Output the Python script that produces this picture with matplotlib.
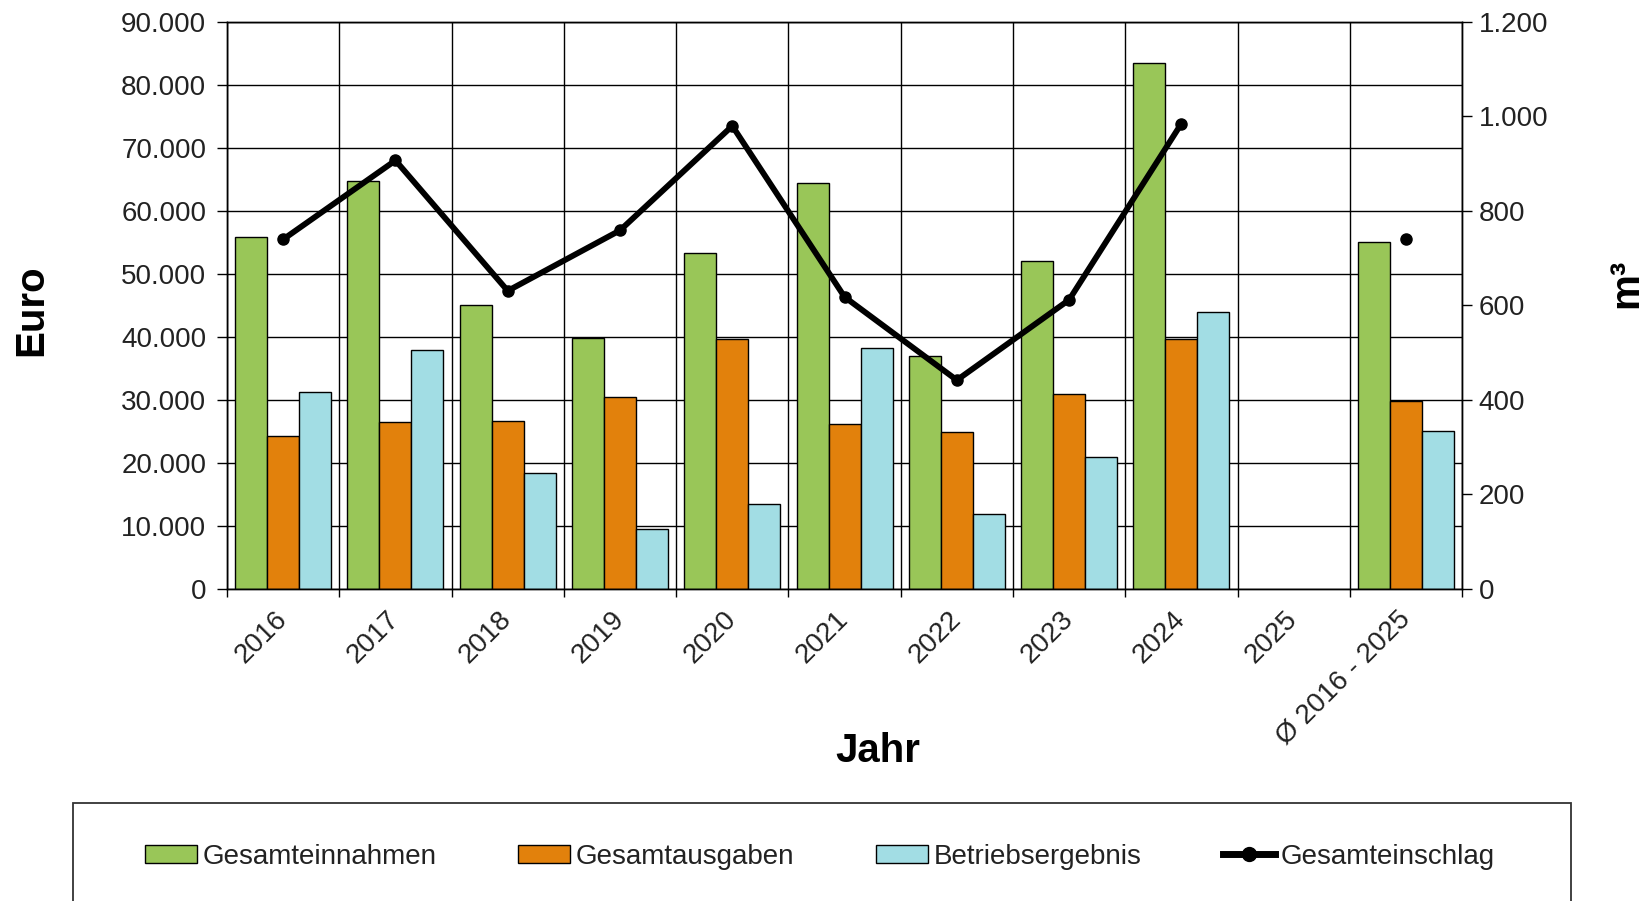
import numpy as np
import matplotlib
matplotlib.use("Agg")
import matplotlib.pyplot as plt
from matplotlib.patches import Rectangle, Patch
from matplotlib.lines import Line2D
from matplotlib.ticker import FuncFormatter

plt.rcParams['font.family'] = ['Liberation Sans', 'DejaVu Sans']

# Werte
jahre = ["2016", "2017", "2018", "2019", "2020", "2021",
         "2022", "2023", "2024", "2025", "Ø 2016 - 2025"]

einnahmen = [55800, 64700, 45000, 39900, 53400, 64400,
             37000, 52000, 83500, np.nan, 55000]

ausgaben = [24300, 26500, 26700, 30500, 39700, 26200,
            24900, 31000, 39700, np.nan, 29900]

ergebnis = [31300, 38000, 18400, 9500, 13500, 38300,
            11900, 21000, 44000, np.nan, 25100]

einschlag = [740, 907, 631, 759, 980, 618,
             442, 612, 985, np.nan, 740]

gruen = "#99C658"
orange = "#E2810C"
blau = "#A2DDE4"
text_farbe = "#222222"


def punkt(v, pos):
    return f"{v:,.0f}".replace(",", ".")


fig = plt.figure(figsize=(16.43, 9.01), dpi=100)
ax = fig.add_axes([0.1382, 0.3463, 0.7517, 0.6293])

x = np.arange(len(jahre))
w = 0.285

ax.bar(x - w, einnahmen, w, color=gruen, edgecolor="black", linewidth=1)
ax.bar(x, ausgaben, w, color=orange, edgecolor="black", linewidth=1)
ax.bar(x + w, ergebnis, w, color=blau, edgecolor="black", linewidth=1)

ax.set_xlim(-0.5, len(jahre) - 0.5)
ax.set_ylim(0, 90000)
ax.set_yticks(np.arange(0, 90001, 10000))
ax.yaxis.set_major_formatter(FuncFormatter(punkt))

# Kategoriengrenzen als Haupt-Ticks, Beschriftung in der Mitte
ax.set_xticks(np.arange(-0.5, len(jahre), 1))
ax.set_xticklabels([])
ax.set_xticks(x, jahre, minor=True, rotation=45, ha="right",
              va="center", rotation_mode="anchor")

ax.tick_params(axis="x", which="major", length=6, width=1, direction="out")
ax.tick_params(axis="x", which="minor", length=0, pad=19,
               labelsize=20, labelcolor=text_farbe)
ax.tick_params(axis="y", length=7, width=1, pad=8,
               labelsize=20, labelcolor=text_farbe)

ax.set_axisbelow(True)
ax.grid(True, which="major", color="black", linewidth=1)

for s in ax.spines.values():
    s.set_linewidth(1)

ax2 = ax.twinx()
ax2.plot(x, einschlag, color="black", linewidth=4.2,
         marker="o", markersize=8, zorder=5)
ax2.set_ylim(0, 1200)
ax2.set_yticks(np.arange(0, 1201, 200))
ax2.yaxis.set_major_formatter(FuncFormatter(punkt))
ax2.tick_params(axis="y", length=7, width=1, pad=5,
                labelsize=20, labelcolor=text_farbe)
for s in ax2.spines.values():
    s.set_linewidth(1)

fig.text(0.534, 0.167, "Jahr", fontsize=29, fontweight="bold",
         ha="center", va="center")
fig.text(0.019, 0.656, "Euro", fontsize=29, fontweight="bold",
         rotation=90, ha="center", va="center")
fig.text(0.9897, 0.686, "m³", fontsize=29, fontweight="bold",
         rotation=90, ha="center", va="center")

handles = [
    Patch(facecolor=gruen, edgecolor="black", linewidth=1),
    Patch(facecolor=orange, edgecolor="black", linewidth=1),
    Patch(facecolor=blau, edgecolor="black", linewidth=1),
    Line2D([], [], color="black", linewidth=5, marker="o", markersize=10),
]
labels = ["Gesamteinnahmen", "Gesamtausgaben",
          "Betriebsergebnis", "Gesamteinschlag"]

leg = fig.legend(handles, labels, ncol=4, loc="center",
                 bbox_to_anchor=(0.499, 0.049), frameon=False,
                 fontsize=20, handlelength=1.87, handleheight=0.65,
                 handletextpad=0.2, columnspacing=2.95)
for t in leg.get_texts():
    t.set_color(text_farbe)

# Rahmen der Legende reicht über den unteren Bildrand hinaus
fig.add_artist(Rectangle((0.0444, -0.1), 0.912, 0.2088,
                         transform=fig.transFigure, fill=False,
                         linewidth=1.3, edgecolor="#333333"))

fig.savefig("out.png", dpi=100)
plt.close()
